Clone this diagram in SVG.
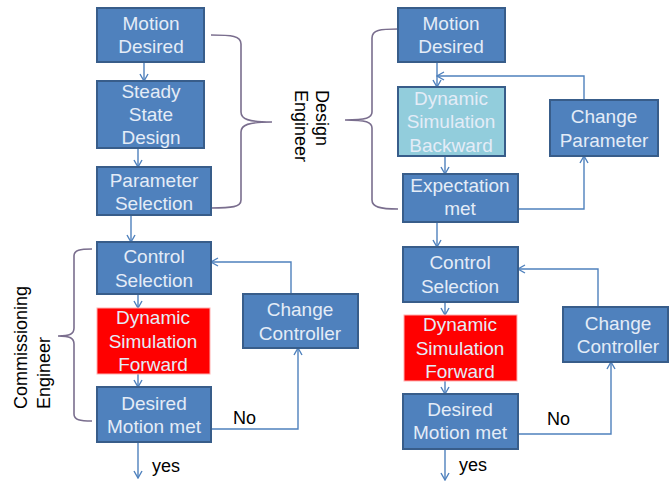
<svg xmlns="http://www.w3.org/2000/svg" width="670" height="481" viewBox="0 0 670 481">
  <style>
    .box { fill: #4f81bd; stroke: #385d8a; stroke-width: 2; }
    .lite { fill: #92cddc; stroke: #385d8a; stroke-width: 2; }
    .red { fill: #ff0000; stroke: #ffb0b0; stroke-width: 1; }
    .t { font-family: "Liberation Sans", Arial, sans-serif; font-size: 19px; fill: #e4ecf7; text-anchor: middle; }
    .lbl { font-family: "Liberation Sans", Arial, sans-serif; font-size: 18px; fill: #000; }
    .con { fill: none; stroke: #4f81bd; stroke-width: 1.4; }
    .brace { fill: none; stroke: #7a6e8e; stroke-width: 1.6; }
  </style>
  <defs>
    <marker id="arr" markerWidth="10" markerHeight="10" refX="9" refY="5" orient="auto" markerUnits="userSpaceOnUse">
      <path d="M2,1 L9,5 L2,9" fill="none" stroke="#4f81bd" stroke-width="1.4"/>
    </marker>
  </defs>

  <rect width="670" height="481" fill="#ffffff"/>

  <!-- connectors -->
  <g id="connectors">
    <!-- left flow -->
    <path class="con" d="M144,62 V81" marker-end="url(#arr)"/>
    <path class="con" d="M138,148 V167" marker-end="url(#arr)"/>
    <path class="con" d="M131,215 V242" marker-end="url(#arr)"/>
    <path class="con" d="M138,294 V308" marker-end="url(#arr)"/>
    <path class="con" d="M138,374 V387" marker-end="url(#arr)"/>
    <path class="con" d="M138,442 V478" marker-end="url(#arr)"/>
    <path class="con" d="M211,429 H298 V348" marker-end="url(#arr)"/>
    <path class="con" d="M291,294 V262 H211" marker-end="url(#arr)"/>
    <!-- right flow -->
    <path class="con" d="M437,62 V87" marker-end="url(#arr)"/>
    <path class="con" d="M584,100 V76 H437" marker-end="url(#arr)"/>
    <path class="con" d="M445,156 V174" marker-end="url(#arr)"/>
    <path class="con" d="M518,209 H584 V156" marker-end="url(#arr)"/>
    <path class="con" d="M437,222 V247" marker-end="url(#arr)"/>
    <path class="con" d="M445,302 V315" marker-end="url(#arr)"/>
    <path class="con" d="M445,381 V394" marker-end="url(#arr)"/>
    <path class="con" d="M445,449 V480" marker-end="url(#arr)"/>
    <path class="con" d="M518,434 H611 V362" marker-end="url(#arr)"/>
    <path class="con" d="M598,307 V269 H518" marker-end="url(#arr)"/>
  </g>

  <!-- role braces -->
  <g id="braces">
    <path class="brace" d="M211,35 C232,35 241,36 241,44 L241,112 C241,119 248,122 272,122 C248,122 241,125 241,132 L241,200 C241,207 232,208 211,208"/>
    <path class="brace" d="M398,29 C380,29 372,30 372,38 L372,112 C372,118 366,120 345,120 C366,120 372,122 372,128 L372,200 C372,207 380,209 398,209"/>
    <path class="brace" d="M92,249 C80,249 74,250 74,256 L74,328 C74,334 70,336 58,336 C70,336 74,338 74,344 L74,414 C74,420 80,421 92,421"/>
  </g>

  <g id="design-engineer">
    <text class="lbl" transform="translate(316,90) rotate(90)">Design</text>
    <text class="lbl" transform="translate(295,90) rotate(90)">Engineer</text>
  </g>
  <g id="commissioning-engineer">
    <text class="lbl" transform="translate(27,409) rotate(-90)">Commissioning</text>
    <text class="lbl" transform="translate(50,409) rotate(-90)">Engineer</text>
  </g>

  <!-- left column -->
  <g id="l-motion-desired">
    <rect class="box" x="97" y="8" width="107" height="54"/>
    <text class="t" x="151" y="30">Motion</text>
    <text class="t" x="151" y="53">Desired</text>
  </g>
  <g id="l-steady-state">
    <rect class="box" x="97" y="81" width="107" height="67"/>
    <text class="t" x="151" y="98">Steady</text>
    <text class="t" x="151" y="121">State</text>
    <text class="t" x="151" y="144">Design</text>
  </g>
  <g id="l-parameter-selection">
    <rect class="box" x="97" y="167" width="114" height="48"/>
    <text class="t" x="154" y="187">Parameter</text>
    <text class="t" x="154" y="210">Selection</text>
  </g>
  <g id="l-control-selection">
    <rect class="box" x="97" y="242" width="114" height="52"/>
    <text class="t" x="154" y="263">Control</text>
    <text class="t" x="154" y="287">Selection</text>
  </g>
  <g id="l-dynamic-forward">
    <rect class="red" x="97" y="308" width="113" height="66"/>
    <text class="t" x="153" y="324">Dynamic</text>
    <text class="t" x="153" y="348">Simulation</text>
    <text class="t" x="153" y="371">Forward</text>
  </g>
  <g id="l-desired-motion-met">
    <rect class="box" x="97" y="387" width="114" height="55"/>
    <text class="t" x="154" y="410">Desired</text>
    <text class="t" x="154" y="433">Motion met</text>
  </g>
  <g id="l-change-controller">
    <rect class="box" x="243" y="294" width="115" height="54"/>
    <text class="t" x="300" y="316">Change</text>
    <text class="t" x="300" y="340">Controller</text>
  </g>
  <text class="lbl" x="233" y="424">No</text>
  <text class="lbl" x="152" y="472">yes</text>

  <!-- right column -->
  <g id="r-motion-desired">
    <rect class="box" x="398" y="8" width="107" height="54"/>
    <text class="t" x="451" y="30">Motion</text>
    <text class="t" x="451" y="53">Desired</text>
  </g>
  <g id="r-dynamic-backward">
    <rect class="lite" x="398" y="87" width="107" height="69"/>
    <text class="t" x="451" y="105">Dynamic</text>
    <text class="t" x="451" y="128">Simulation</text>
    <text class="t" x="451" y="152">Backward</text>
  </g>
  <g id="r-change-parameter">
    <rect class="box" x="550" y="100" width="108" height="56"/>
    <text class="t" x="604" y="123">Change</text>
    <text class="t" x="604" y="147">Parameter</text>
  </g>
  <g id="r-expectation-met">
    <rect class="box" x="403" y="174" width="115" height="48"/>
    <text class="t" x="460" y="192">Expectation</text>
    <text class="t" x="460" y="215">met</text>
  </g>
  <g id="r-control-selection">
    <rect class="box" x="403" y="247" width="115" height="55"/>
    <text class="t" x="460" y="269">Control</text>
    <text class="t" x="460" y="293">Selection</text>
  </g>
  <g id="r-dynamic-forward">
    <rect class="red" x="404" y="315" width="113" height="66"/>
    <text class="t" x="460" y="331">Dynamic</text>
    <text class="t" x="460" y="355">Simulation</text>
    <text class="t" x="460" y="378">Forward</text>
  </g>
  <g id="r-desired-motion-met">
    <rect class="box" x="403" y="394" width="115" height="55"/>
    <text class="t" x="460" y="416">Desired</text>
    <text class="t" x="460" y="439">Motion met</text>
  </g>
  <g id="r-change-controller">
    <rect class="box" x="563" y="307" width="105" height="55"/>
    <text class="t" x="618" y="330">Change</text>
    <text class="t" x="618" y="353">Controller</text>
  </g>
  <text class="lbl" x="547" y="425">No</text>
  <text class="lbl" x="459" y="471">yes</text>
</svg>
